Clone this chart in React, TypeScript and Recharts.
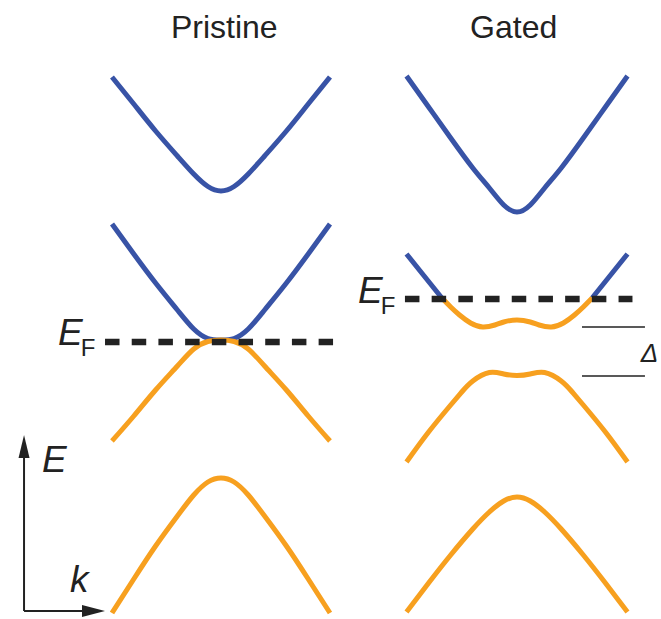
import React from 'react';
import { LineChart, Line, XAxis, YAxis, ReferenceLine, ReferenceDot } from 'recharts';

// ---- data (k: momentum, E: energy, arbitrary units) ----
const kBand = [-1, -0.8, -0.6, -0.4, -0.25, -0.12, 0, 0.12, 0.25, 0.4, 0.6, 0.8, 1];

// Pristine bilayer
const pristineCondHigh = [2.65, 2.38, 2.11, 1.86, 1.68, 1.555, 1.51, 1.555, 1.68, 1.86, 2.11, 2.38, 2.65];
const pristineCondLow = [1.18, 0.88, 0.59, 0.32, 0.13, 0.035, 0.02, 0.035, 0.13, 0.32, 0.59, 0.88, 1.18];
const pristineValHigh = [-0.99, -0.74, -0.48, -0.24, -0.07, 0.005, 0.02, 0.005, -0.07, -0.24, -0.48, -0.74, -0.99];
const pristineValLow = [-2.71, -2.37, -2.04, -1.74, -1.53, -1.4, -1.36, -1.4, -1.53, -1.74, -2.04, -2.37, -2.71];

// Gated bilayer
const gatedCondHigh = [2.66, 2.35, 2.04, 1.74, 1.54, 1.37, 1.3, 1.37, 1.54, 1.74, 2.04, 2.35, 2.66];
const kHat = [-1, -0.8, -0.6, -0.5, -0.4, -0.25, -0.12, 0, 0.12, 0.25, 0.4, 0.5, 0.6, 0.8, 1];
const gatedValHigh = [-1.2, -0.9, -0.63, -0.5, -0.39, -0.305, -0.32, -0.335, -0.32, -0.305, -0.39, -0.5, -0.63, -0.9, -1.2];
const gatedValLow = [-2.7, -2.41, -2.13, -1.87, -1.7, -1.59, -1.55, -1.59, -1.7, -1.87, -2.13, -2.41, -2.7];

const kCondLeftBlue = [-1, -0.84, -0.68];
const eCondLeftBlue = [0.88, 0.66, 0.44];
const kCondRightBlue = [0.68, 0.84, 1];
const eCondRightBlue = [0.44, 0.66, 0.88];
const kCondOrange = [-0.68, -0.6, -0.52, -0.42, -0.31, -0.2, -0.12, 0, 0.12, 0.2, 0.31, 0.42, 0.52, 0.6, 0.68];
const eCondOrange = [0.44, 0.35, 0.27, 0.19, 0.15, 0.17, 0.2, 0.22, 0.2, 0.17, 0.15, 0.19, 0.27, 0.35, 0.44];

// Fermi levels and gap markers
const fermiPristine = 0;
const fermiGated = 0.43;
const gapEdges = [0.15, -0.34];

const titles = ['Pristine', 'Gated'];

// ---- layout / styles ----
const W = 661;
const H = 619;
const BLUE = '#3853a6';
const ORANGE = '#f7a01f';
const INK = '#222222';
const FONT = '"Liberation Sans", Arial, Helvetica, sans-serif';

const X_P_DOMAIN: [number, number] = [-2.0275, 4.0367];
const X_G_DOMAIN: [number, number] = [-4.6787, 1.3032];
const Y_DOMAIN: [number, number] = [-2.77, 3.42];

const zip = (ks: number[], es: number[]) => ks.map((k, i) => ({ k, E: es[i] }));

const textShape =
  (content: React.ReactNode, opts: { size: number; italic?: boolean; anchor?: string }) =>
  (p: any) =>
    (
      <text
        x={p.cx}
        y={p.cy}
        fontFamily={FONT}
        fontSize={opts.size}
        fontStyle={opts.italic ? 'italic' : 'normal'}
        textAnchor={opts.anchor || 'start'}
        fill={INK}
      >
        {content}
      </text>
    );

const efLabel = (
  <>
    <tspan fontStyle="italic">E</tspan>
    <tspan fontSize={24} fontStyle="normal" dx={-2} dy={11}>
      F
    </tspan>
  </>
);

export default function App() {
  const bandProps = {
    dataKey: 'E',
    type: 'natural' as const,
    dot: false,
    activeDot: false,
    strokeWidth: 5,
    isAnimationActive: false,
  };
  return (
    <div style={{ width: W, height: H }}>
      <style>{`body{margin:0}`}</style>
      <LineChart width={W} height={H} margin={{ top: 0, right: 0, bottom: 0, left: 0 }}>
        <XAxis xAxisId="p" type="number" dataKey="k" domain={X_P_DOMAIN} allowDataOverflow hide />
        <XAxis xAxisId="g" type="number" dataKey="k" domain={X_G_DOMAIN} allowDataOverflow hide />
        <YAxis type="number" domain={Y_DOMAIN} allowDataOverflow hide />

        {/* Pristine bands */}
        <Line xAxisId="p" data={zip(kBand, pristineCondHigh)} stroke={BLUE} {...bandProps} />
        <Line xAxisId="p" data={zip(kBand, pristineCondLow)} stroke={BLUE} {...bandProps} />
        <Line xAxisId="p" data={zip(kBand, pristineValHigh)} stroke={ORANGE} {...bandProps} />
        <Line xAxisId="p" data={zip(kBand, pristineValLow)} stroke={ORANGE} {...bandProps} />

        {/* Gated bands */}
        <Line xAxisId="g" data={zip(kBand, gatedCondHigh)} stroke={BLUE} {...bandProps} />
        <Line xAxisId="g" data={zip(kCondLeftBlue, eCondLeftBlue)} stroke={BLUE} {...bandProps} type="linear" />
        <Line xAxisId="g" data={zip(kCondRightBlue, eCondRightBlue)} stroke={BLUE} {...bandProps} type="linear" />
        <Line xAxisId="g" data={zip(kCondOrange, eCondOrange)} stroke={ORANGE} {...bandProps} />
        <Line xAxisId="g" data={zip(kHat, gatedValHigh)} stroke={ORANGE} {...bandProps} />
        <Line xAxisId="g" data={zip(kBand, gatedValLow)} stroke={ORANGE} {...bandProps} />

        {/* Fermi levels */}
        <ReferenceLine
          xAxisId="p"
          segment={[
            { x: -1.064, y: fermiPristine },
            { x: 1.028, y: fermiPristine },
          ]}
          stroke={INK}
          strokeWidth={6.5}
          strokeDasharray="14.5 12.2"
        />
        <ReferenceLine
          xAxisId="g"
          segment={[
            { x: -1.014, y: fermiGated },
            { x: 1.045, y: fermiGated },
          ]}
          stroke={INK}
          strokeWidth={6.5}
          strokeDasharray="14.5 12.2"
        />

        {/* Gap markers */}
        {gapEdges.map((e, i) => (
          <ReferenceLine
            key={i}
            xAxisId="g"
            segment={[
              { x: 0.588, y: e },
              { x: 1.158, y: e },
            ]}
            stroke={INK}
            strokeWidth={1.5}
          />
        ))}

        {/* Axes arrows */}
        <ReferenceLine
          xAxisId="p"
          segment={[
            { x: -1.807, y: -2.69 },
            { x: -1.807, y: -1.1 },
          ]}
          stroke={INK}
          strokeWidth={2}
        />
        <ReferenceLine
          xAxisId="p"
          segment={[
            { x: -1.807, y: -2.69 },
            { x: -1.2, y: -2.69 },
          ]}
          stroke={INK}
          strokeWidth={2}
        />
        <ReferenceDot
          xAxisId="p"
          x={-1.807}
          y={-0.93}
          r={1}
          shape={(p: any) => (
            <polygon
              points={`${p.cx},${p.cy} ${p.cx - 5.5},${p.cy + 23} ${p.cx + 5.5},${p.cy + 23}`}
              fill={INK}
            />
          )}
        />
        <ReferenceDot
          xAxisId="p"
          x={-1.064}
          y={-2.69}
          r={1}
          shape={(p: any) => (
            <polygon
              points={`${p.cx},${p.cy} ${p.cx - 23},${p.cy - 6} ${p.cx - 23},${p.cy + 6}`}
              fill={INK}
            />
          )}
        />

        {/* Texts */}
        <ReferenceDot xAxisId="p" x={0.03} y={3.04} r={1} shape={textShape(titles[0], { size: 32, anchor: 'middle' })} />
        <ReferenceDot xAxisId="g" x={-0.03} y={3.04} r={1} shape={textShape(titles[1], { size: 32, anchor: 'middle' })} />
        <ReferenceDot xAxisId="p" x={-1.495} y={-0.03} r={1} shape={textShape(efLabel, { size: 37 })} />
        <ReferenceDot xAxisId="g" x={-1.439} y={0.39} r={1} shape={textShape(efLabel, { size: 37 })} />
        <ReferenceDot xAxisId="p" x={-1.642} y={-1.3} r={1} shape={textShape('E', { size: 37, italic: true })} />
        <ReferenceDot xAxisId="p" x={-1.385} y={-2.5} r={1} shape={textShape('k', { size: 37, italic: true })} />
        <ReferenceDot xAxisId="g" x={1.12} y={-0.2} r={1} shape={textShape('Δ', { size: 26, italic: true })} />
      </LineChart>
    </div>
  );
}
